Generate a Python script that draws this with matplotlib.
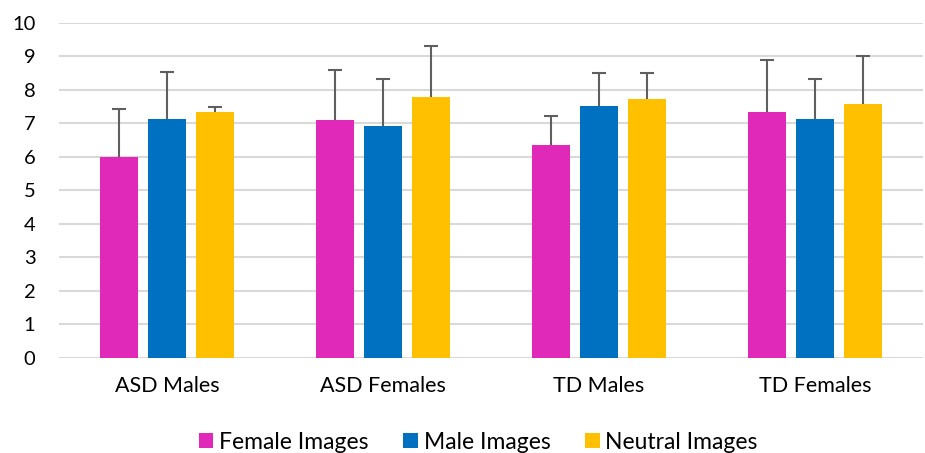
import matplotlib
matplotlib.use("Agg")
import matplotlib.pyplot as plt
import numpy as np

categories = ["ASD Males", "ASD Females", "TD Males", "TD Females"]
series = ["Female Images", "Male Images", "Neutral Images"]
female_vals = [6.00, 7.09, 6.34, 7.34]
male_vals = [7.12, 6.91, 7.50, 7.12]
neutral_vals = [7.32, 7.78, 7.71, 7.57]
female_err = [1.41, 1.50, 0.86, 1.55]
male_err = [1.42, 1.40, 1.00, 1.21]
neutral_err = [0.15, 1.52, 0.80, 1.43]
colors = ["#E029B9", "#0070C0", "#FFC000"]
yticks = list(range(0, 11))

plt.rcParams['font.family'] = ['Lato', 'DejaVu Sans']

fig = plt.figure(figsize=(9.25, 4.53), dpi=100)
ax = fig.add_axes([0.0638, 0.2104, 0.934, 0.7395])

x = np.arange(len(categories))
w = 0.175
offs = [-0.222, 0.0, 0.222]
vals = [female_vals, male_vals, neutral_vals]
errs = [female_err, male_err, neutral_err]
for i in range(3):
    ax.bar(x + offs[i], vals[i], width=w, color=colors[i], label=series[i], zorder=3)
    eb = ax.errorbar(x + offs[i], vals[i], yerr=[np.zeros(len(errs[i])), errs[i]],
                     fmt='none', ecolor="#5f5f5f", elinewidth=1.5, capsize=5,
                     capthick=1.5, zorder=4)
    caplines = eb.lines[1]
    # hide the lower cap (at the bar top)
    caplines[0].set_visible(False)

ax.set_xlim(-0.5, 3.5)
ax.set_ylim(0, 10)
ax.set_yticks(yticks)
ax.set_yticklabels([str(t) for t in yticks], fontsize=14.5)
ax.set_xticks(x)
ax.set_xticklabels(categories, fontsize=15.5)
ax.tick_params(axis='both', length=0)
ax.tick_params(axis='y', pad=17)
ax.tick_params(axis='x', pad=13)
ax.grid(axis='y', color="#d9d9d9", linewidth=1.5, zorder=0)
for s in ax.spines.values():
    s.set_visible(False)

leg = fig.legend(loc="lower center", bbox_to_anchor=(0.517, -0.045), ncol=3, frameon=False,
                 fontsize=16.5, handlelength=0.65, handleheight=0.65, handletextpad=0.25,
                 columnspacing=1.5)

fig.savefig("out.png", dpi=100)
